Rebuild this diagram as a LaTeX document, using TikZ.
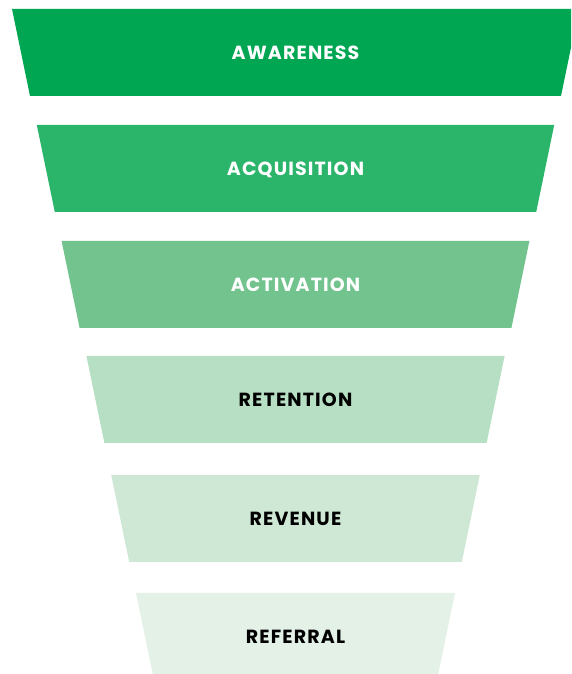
\documentclass[tikz,border=0pt]{standalone}
\usepackage{fontspec}
\setmainfont{Poppins}[UprightFont={* Bold},LetterSpace=6]
\definecolor{c1}{HTML}{00A651}
\definecolor{c2}{HTML}{2BB56A}
\definecolor{c3}{HTML}{72C38E}
\definecolor{c4}{HTML}{B6DFC3}
\definecolor{c5}{HTML}{CFE8D5}
\definecolor{c6}{HTML}{E3F1E6}
\begin{document}
\begin{tikzpicture}[x=1pt,y=1pt,
  lbl/.style={font=\fontsize{19}{19}\selectfont, inner sep=0pt, anchor=center,
    text height=13.3pt, text depth=0pt}]
\useasboundingbox (0,0) rectangle (571,674);
\clip (0,0) rectangle (571,674);
\foreach \k/\top/\col/\txt/\tc in {0/9/c1/AWARENESS/white,1/125/c2/ACQUISITION/white,2/241/c3/ACTIVATION/white,3/356/c4/RETENTION/black,4/475/c5/REVENUE/black,5/593/c6/REFERRAL/black}{
  \pgfmathsetmacro{\yt}{674-\top}
  \pgfmathsetmacro{\yb}{\yt-87}
  \pgfmathsetmacro{\xl}{12+24.8*\k}
  \pgfmathsetmacro{\xr}{591-\xl}
  \fill[\col] (\xl,\yt) -- (\xr,\yt) -- (\xr-18,\yb) -- (\xl+18,\yb) -- cycle;
  \node[lbl, text=\tc] (t\k) at (295.5,\yt-44) {\txt};
}
\end{tikzpicture}
\end{document}
